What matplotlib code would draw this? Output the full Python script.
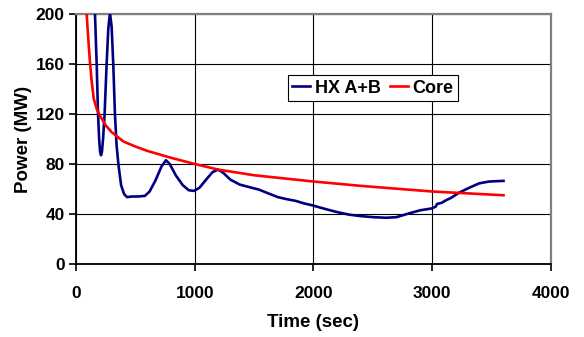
import numpy as np
import matplotlib.pyplot as plt

plt.rcParams['font.family'] = ['Liberation Sans', 'DejaVu Sans']
plt.rcParams['font.weight'] = 'bold'

# heat exchanger power (A+B), MW vs time in s
hx_t = [140, 160, 175, 185, 195, 203, 211, 219, 228, 241, 258, 272, 286, 300, 314,
        328, 342, 357, 380, 405, 430, 470, 520, 580, 620, 670, 720, 758, 790, 840,
        900, 950, 994, 1040, 1100, 1150, 1196, 1240, 1300, 1380, 1460, 1541, 1620,
        1700, 1768, 1850, 1920, 1987, 2100, 2200, 2299, 2400, 2500, 2611, 2700,
        2804, 2900, 2998, 3030, 3040, 3080, 3116, 3160, 3225, 3300, 3394, 3480, 3600]
hx_p = [260, 200, 158, 122, 100, 90, 87, 90, 100, 120, 160, 188, 201, 190, 160,
        120, 95, 80, 63, 56, 53.5, 54, 54, 54.5, 58, 67, 78, 83, 80, 71,
        63, 59, 58.5, 61, 68, 73.5, 75.5, 73, 67.5, 63.5, 61.5, 59.5, 56.5,
        53.5, 52, 50.5, 48.5, 47, 44, 41.5, 39.5, 38.3, 37.5, 37, 37.5,
        40.5, 43, 44.5, 46, 48, 49, 51, 53, 57, 60.5, 64.5, 66, 66.5]

# core power
core_t = [90, 100, 115, 130, 150, 175, 200, 250, 300, 400, 500, 600, 800, 1000,
          1200, 1500, 2000, 2400, 3000, 3600]
core_p = [200, 185, 165, 148, 132, 124, 119, 111, 105.5, 98, 94, 90.5, 85, 80,
          75.5, 71, 66, 62.5, 58, 55]

x_ticks = [0, 1000, 2000, 3000, 4000]
y_ticks = [0, 40, 80, 120, 160, 200]

fig = plt.figure(figsize=(5.84, 3.37), dpi=100)
ax = fig.add_axes([0.1301, 0.2166, 0.8134, 0.7418])

ax.plot(hx_t, hx_p, color='#000080', lw=1.9, label='HX A+B', zorder=3)
ax.plot(core_t, core_p, color='#FF0000', lw=1.9, label='Core', zorder=3)

ax.set_xlim(0, 4000)
ax.set_ylim(0, 200)
ax.set_xticks(x_ticks)
ax.set_yticks(y_ticks)
ax.grid(True, color='black', lw=0.8)
ax.set_axisbelow(True)

for s in ['left', 'bottom']:
    ax.spines[s].set_color('black')
    ax.spines[s].set_linewidth(1.3)
for s in ['top', 'right']:
    ax.spines[s].set_color('#808080')
    ax.spines[s].set_linewidth(1.6)

ax.tick_params(axis='both', direction='out', length=5, width=1.2, labelsize=12.5)
ax.tick_params(axis='x', pad=11)
ax.tick_params(axis='y', pad=3)

ax.set_xlabel('Time (sec)', fontsize=13.5, fontweight='bold')
ax.set_ylabel('Power (MW)', fontsize=13.5, fontweight='bold')
ax.xaxis.set_label_coords(0.5, -0.2)
ax.yaxis.set_label_coords(-0.093, 0.5)

leg = ax.legend(loc='upper left', bbox_to_anchor=(0.446, 0.756), borderaxespad=0,
                ncol=2, fontsize=13, handlelength=1.0, handletextpad=0.25,
                columnspacing=0.5, borderpad=0.25, fancybox=False, framealpha=1)
leg.get_frame().set_edgecolor('black')
leg.get_frame().set_linewidth(0.8)

fig.savefig('out.png', dpi=100)
